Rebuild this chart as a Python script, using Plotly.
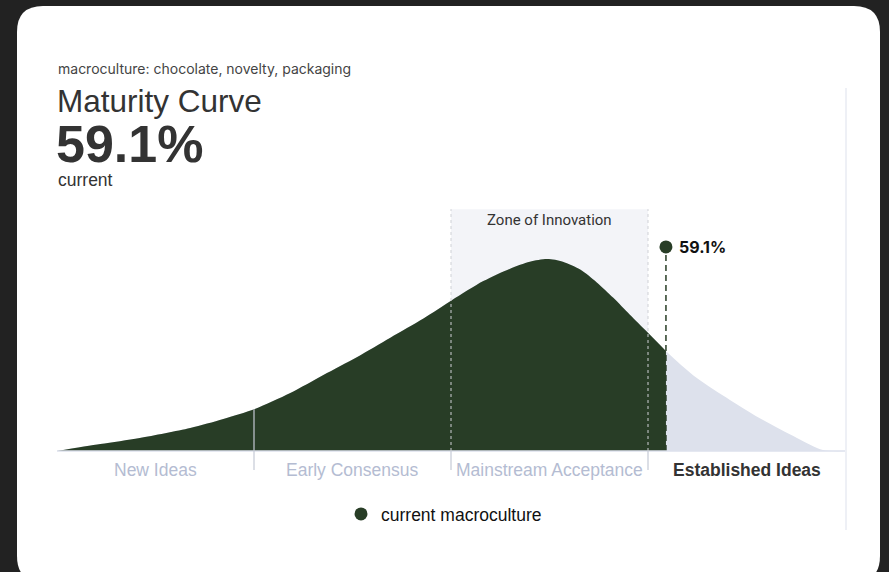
import numpy as np
import plotly.graph_objects as go

# ---- data -------------------------------------------------------------
stage_names = ["New Ideas", "Early Consensus", "Mainstream Acceptance", "Established Ideas"]
stage_edges_pos = [0, 25, 50, 75, 100]          # position of stage edges on the curve axis
stage_edges_maturity = [0, 15, 35, 55, 100]     # maturity % at each stage edge

curve_x = [0, 5.5, 10.5, 16.9, 21.1, 25.1, 29.6, 33.8, 38.1, 42.3, 46.5, 50.1, 54.1,
           57.5, 60.0, 62.2, 64.2, 66.4, 68.5, 70.6, 72.7, 74.9, 77.4, 81.2, 85.4,
           89.6, 93.9, 97.2, 100]
curve_y = [0, 3.6, 6.8, 12.0, 16.7, 21.9, 30.2, 39.6, 49.0, 59.0, 69.0, 78.5, 88.5,
           95.0, 98.6, 100, 98.6, 94.5, 87.8, 79.8, 71.0, 62.0, 51.6, 38.0, 26.6,
           16.1, 6.8, 0.5, 0]

current_maturity = 59.1
zone_start, zone_end = 50, 75
subtitle = "macroculture: chocolate, novelty, packaging"

# ---- geometry helpers ----------------------------------------------------
W, H = 889, 572
L, R, T, B = 57, 845, 88, 480          # plot area in pixels
Y_MIN, Y_MAX = -15.1, 189.1


def px(x):
    return (x - L) / (R - L)


def py(y):
    return (B - y) / (B - T)


DARK = "#283d26"
LIGHT = "#dde1ec"
ZONE = "#f3f4f8"
MUTED = "#b4bcd2"

cx = np.array(curve_x, dtype=float)
cy = np.array(curve_y, dtype=float)
cur_x = float(np.interp(current_maturity, stage_edges_maturity, stage_edges_pos))
cur_y = float(np.interp(cur_x, cx, cy))
mask = cx < cur_x
dark_x = np.append(cx[mask], cur_x)
dark_y = np.append(cy[mask], cur_y)

fig = go.Figure()

# full curve (light) and the part already reached (dark)
fig.add_trace(go.Scatter(x=cx, y=cy, mode="lines",
                         line=dict(color=LIGHT, width=0, shape="spline", smoothing=0.8),
                         fill="tozeroy", fillcolor=LIGHT, showlegend=False, hoverinfo="skip"))
fig.add_trace(go.Scatter(x=dark_x, y=dark_y, mode="lines",
                         line=dict(color=DARK, width=0, shape="spline", smoothing=0.8),
                         fill="tozeroy", fillcolor=DARK, showlegend=False, hoverinfo="skip"))

# current position marker
dot_y = 106.3
fig.add_trace(go.Scatter(x=[cur_x, cur_x], y=[0, dot_y], mode="lines",
                         line=dict(color=DARK, width=1.5, dash="6px,4px"),
                         showlegend=False, hoverinfo="skip"))
fig.add_trace(go.Scatter(x=[cur_x], y=[dot_y], mode="markers", name="current macroculture",
                         marker=dict(color=DARK, size=13), showlegend=True))

shapes = []
# card
x0, x1, y0, y1, r = 17, 880, 6, 582, 26
rx, ry = r / (R - L), r / (B - T)
path = (f"M {px(x0)},{py(y0) - ry} L {px(x0)},{py(y1) + ry} Q {px(x0)},{py(y1)} {px(x0) + rx},{py(y1)} "
        f"L {px(x1) - rx},{py(y1)} Q {px(x1)},{py(y1)} {px(x1)},{py(y1) + ry} "
        f"L {px(x1)},{py(y0) - ry} Q {px(x1)},{py(y0)} {px(x1) - rx},{py(y0)} "
        f"L {px(x0) + rx},{py(y0)} Q {px(x0)},{py(y0)} {px(x0)},{py(y0) - ry} Z")
shapes.append(dict(type="path", path=path, xref="paper", yref="paper", fillcolor="white",
                   line=dict(width=0), layer="below"))
# zone of innovation band
zone_top = 126.0
shapes.append(dict(type="rect", xref="x", yref="y", x0=zone_start, x1=zone_end, y0=0, y1=zone_top,
                   fillcolor=ZONE, line=dict(width=0), layer="below"))
# baseline
shapes.append(dict(type="line", xref="x", yref="y", x0=0, x1=100, y0=0, y1=0,
                   line=dict(color=LIGHT, width=1.5)))
# right border line
shapes.append(dict(type="line", xref="paper", yref="paper", x0=px(846), x1=px(846), y0=py(88), y1=py(530),
                   line=dict(color=LIGHT, width=1)))
# stage separators
for e in stage_edges_pos[1:-1]:
    top = float(np.interp(e, cx, cy)) if e < zone_start else 0
    shapes.append(dict(type="line", xref="x", yref="y", x0=e, x1=e, y0=-9.9, y1=top,
                       line=dict(color="#c5cad6", width=1.2)))
for e in (zone_start, zone_end):
    shapes.append(dict(type="line", xref="x", yref="y", x0=e, x1=e, y0=0, y1=zone_top,
                       line=dict(color="#cfd1d6", width=1, dash="3px,3px")))

annotations = [
    dict(text=subtitle, x=px(56), y=py(68), xref="paper", yref="paper", xanchor="left", yanchor="middle",
         showarrow=False, font=dict(family="Inter", size=14, color="#444")),
    dict(text="Maturity Curve", x=px(55), y=py(101), xref="paper", yref="paper", xanchor="left",
         yanchor="middle", showarrow=False, font=dict(family="Liberation Sans", size=31.5, color="#333")),
    dict(text=f"<b>{current_maturity}%</b>", x=px(54), y=py(144), xref="paper", yref="paper",
         xanchor="left", yanchor="middle", showarrow=False,
         font=dict(family="Liberation Sans", size=52, color="#333")),
    dict(text="current", x=px(56), y=py(180), xref="paper", yref="paper", xanchor="left", yanchor="middle",
         showarrow=False, font=dict(family="Liberation Sans", size=17.5, color="#333")),
    dict(text="Zone of Innovation", x=(zone_start + zone_end) / 2, y=py(220), xref="x", yref="paper",
         xanchor="center", yanchor="middle", showarrow=False,
         font=dict(family="Roboto", size=15, color="#333")),
    dict(text=f"<b>{current_maturity}%</b>", x=cur_x, y=dot_y, xref="x", yref="y", xanchor="left",
         yanchor="middle", xshift=11, showarrow=False, font=dict(family="Inter", size=16, color="#111")),
]
for i, name in enumerate(stage_names):
    mid = (stage_edges_pos[i] + stage_edges_pos[i + 1]) / 2
    last = i == len(stage_names) - 1
    annotations.append(dict(text=f"<b>{name}</b>" if last else name, x=mid, y=py(470), xref="x",
                            yref="paper", xanchor="center", yanchor="middle", showarrow=False,
                            font=dict(family="Liberation Sans", size=17.5, color="#333" if last else MUTED)))

fig.update_layout(
    width=W, height=H,
    margin=dict(l=L, r=W - R, t=T, b=H - B, pad=0),
    paper_bgcolor="#222222",
    plot_bgcolor="rgba(0,0,0,0)",
    xaxis=dict(range=[0, 100], visible=False, fixedrange=True),
    yaxis=dict(range=[Y_MIN, Y_MAX], visible=False, fixedrange=True),
    shapes=shapes,
    annotations=annotations,
    showlegend=True,
    legend=dict(orientation="h", x=px(444), y=py(514), xanchor="center", yanchor="middle",
                bgcolor="rgba(0,0,0,0)", font=dict(family="Liberation Sans", size=17.5, color="#111"),
                itemwidth=30),
    hovermode=False,
)

fig.write_html("out.html")
